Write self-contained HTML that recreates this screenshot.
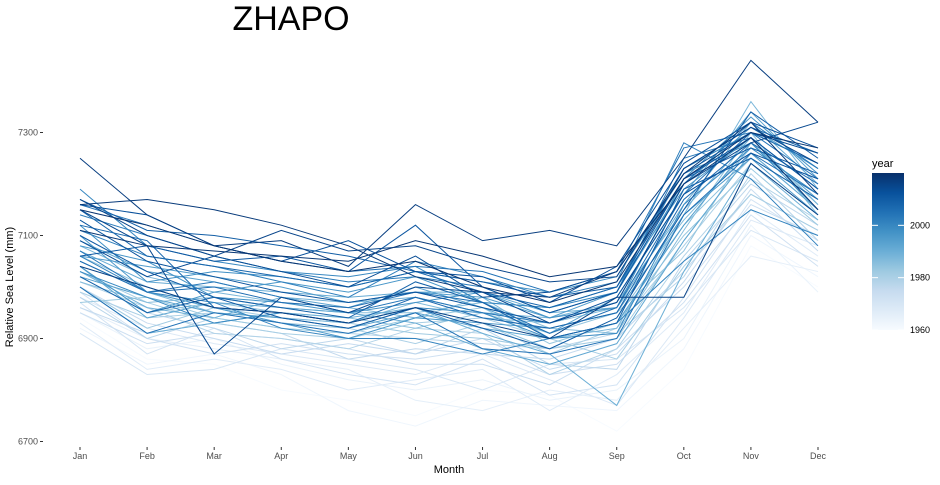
<!DOCTYPE html>
<html><head><meta charset="utf-8"><style>
body{margin:0;background:#fff;}
svg text{font-family:"Liberation Sans",sans-serif;}
</style></head><body>
<svg id="chart" width="940" height="480" xmlns="http://www.w3.org/2000/svg">
<defs><linearGradient id="cb" x1="0" y1="1" x2="0" y2="0">
<stop offset="0" stop-color="#F7FBFF"/><stop offset="0.125" stop-color="#DEEBF7"/><stop offset="0.25" stop-color="#C6DBEF"/><stop offset="0.375" stop-color="#9ECAE1"/><stop offset="0.5" stop-color="#6BAED6"/><stop offset="0.625" stop-color="#4292C6"/><stop offset="0.75" stop-color="#2171B5"/><stop offset="0.875" stop-color="#08519C"/><stop offset="1" stop-color="#08306B"/>
</linearGradient></defs>
<text x="291" y="30" font-size="34" text-anchor="middle" fill="#000">ZHAPO</text>
<g id="lines"></g>
<g id="axes"></g>
<text x="449" y="473" font-size="11" text-anchor="middle" fill="#000">Month</text>
<text transform="translate(13,287) rotate(-90)" font-size="11" text-anchor="middle" fill="#000">Relative Sea Level (mm)</text>
<g>
<text x="872" y="167" font-size="11" fill="#000">year</text>
<rect x="872" y="173" width="32" height="157" fill="url(#cb)"/>
<g id="legendTicks"></g>
</g>
</svg>
<script>
const months=["Jan","Feb","Mar","Apr","May","Jun","Jul","Aug","Sep","Oct","Nov","Dec"];
const yTicks=[6700,6900,7100,7300];
const legendTickYears=[1960,1980,2000];
const years=[1960,1961,1962,1963,1964,1965,1966,1967,1968,1969,1970,1971,1972,1973,1974,1975,1976,1977,1978,1979,1980,1981,1982,1983,1984,1985,1986,1987,1988,1989,1990,1991,1992,1993,1994,1995,1996,1997,1998,1999,2000,2001,2002,2003,2004,2005,2006,2007,2008,2009,2010,2011,2012,2013,2014,2015,2016,2017,2018,2019];
const values=[
[6940,6860,6850,6800,6780,6750,6800,6790,6720,6840,7080,7000],
[6920,6850,6870,6830,6760,6730,6780,6770,6760,6880,7100,7020],
[6950,6880,6900,6850,6820,6800,6820,6780,6800,6900,7120,6990],
[6960,6900,6880,6860,6840,6780,6760,6800,6780,6920,7060,7030],
[6930,6840,6860,6840,6800,6820,6840,6760,6830,6950,7150,7060],
[6980,6920,6890,6870,6850,6830,6870,6820,6770,6940,7130,7080],
[6910,6830,6840,6880,6860,6840,6800,6850,6860,6960,7110,7050],
[6970,6870,6920,6860,6830,6810,6860,6790,6810,6980,7170,7090],
[6990,6900,6870,6890,6870,6860,6880,6830,6850,6970,7140,7040],
[6950,6890,6910,6900,6880,6850,6850,6810,6880,7000,7160,7100],
[7000,6930,6900,6870,6890,6870,6900,6840,6870,7010,7190,7070],
[6960,6910,6930,6910,6860,6880,6870,6860,6900,7030,7180,7110],
[7020,6950,6920,6880,6900,6870,6920,6850,6840,7050,7200,7120],
[6980,6900,6940,6920,6910,6900,6890,6880,6910,7020,7220,7090],
[7010,6960,6910,6900,6880,6920,6910,6830,6880,7060,7210,7130],
[6990,6940,6950,6930,6920,6890,6930,6870,6920,7080,7240,7140],
[7030,6970,6930,6910,6900,6930,6940,6900,6860,7040,7180,7110],
[7000,6920,6960,6940,6930,6910,6900,6880,6900,7090,7260,7150],
[6970,6980,6940,6920,6910,6940,6960,6890,6930,7100,7230,7120],
[7040,6950,6970,6950,6940,6920,6950,6910,6950,7070,7280,7160],
[7060,7000,6960,6930,6920,6960,6930,6880,6940,7120,7250,7170],
[7010,6970,6980,6960,6950,6950,6970,6920,6910,7110,7300,7140],
[7050,6990,6950,6940,6930,6970,6940,6930,6960,7130,7270,7180],
[7080,7020,6990,6970,6960,6940,6980,6900,6920,7140,7360,7190],
[7030,6960,6940,6980,6970,6980,6950,6940,6970,7150,7290,7160],
[7000,6910,6930,6950,6940,6960,6910,6870,6770,7030,7240,7130],
[7070,7010,7000,6990,6980,6990,6990,6950,6960,7160,7320,7200],
[7040,6940,6970,6960,6950,6930,6880,6850,6890,7090,7260,7150],
[7090,7030,7010,6980,6960,7000,6960,6910,6980,7180,7340,7210],
[7020,6980,6950,6940,6920,6950,6920,6900,6930,7120,7280,7170],
[7060,7040,7020,7000,6970,6990,6980,6940,6990,7200,7310,7230],
[7100,6990,6960,6930,6900,6940,6930,6920,6950,7140,7250,7140],
[7040,6950,6990,7010,6990,7020,6970,6960,7000,7190,7290,7190],
[7080,7050,6980,6970,6950,6970,6990,6940,6960,7210,7330,7220],
[7120,7010,7030,7020,7000,7030,7010,6990,7020,7220,7280,7150],
[7030,6980,6930,6950,6930,6960,6950,6900,6910,7160,7270,7180],
[7190,7080,7050,7030,7020,7040,6970,6960,6990,7230,7300,7240],
[7060,6990,6970,6920,6900,6900,6870,6900,6930,7050,7150,7100],
[7110,7060,7040,7010,6980,7050,7020,6980,7010,7280,7210,7080],
[7140,7100,7060,7030,7010,7020,7000,6950,6990,7250,7290,7190],
[7070,6990,7010,6980,6950,6980,6950,6930,6970,7200,7320,7230],
[7160,7120,7080,7050,7030,7040,7030,6990,7030,7270,7300,7210],
[7000,6910,6950,6930,6910,6950,6880,6870,6900,7140,7260,7180],
[7050,6990,7000,6970,6960,6990,6970,6910,6960,7180,7300,7240],
[7120,7090,6960,6950,6930,6980,6940,6920,6950,7170,7280,7200],
[7150,7060,7040,7020,7000,7030,6990,6960,7000,7230,7310,7260],
[7020,6950,6980,6960,6940,7010,6970,6900,6930,7190,7250,7170],
[7170,7110,7100,7080,7060,7030,7010,6980,7000,7210,7270,7220],
[7100,7030,6980,6940,6920,6960,6920,6880,6940,7150,7340,7250],
[7060,7080,7050,7060,7030,7120,7000,6950,6990,7210,7290,7190],
[7130,7050,7020,6990,6970,6990,6960,6930,6980,7180,7260,7210],
[7160,7140,7080,7050,7090,7030,7020,6970,7040,7240,7320,7270],
[7090,7020,7060,7030,7000,7060,6980,6990,7030,7220,7300,7260],
[7150,7080,6870,6980,6950,7000,6990,6930,6970,7200,7280,7320],
[7170,7100,7060,7110,7070,7080,7040,7010,7020,7230,7310,7240],
[7040,7000,6960,6950,6930,6960,6930,6900,6980,6980,7240,7140],
[7250,7140,7080,7090,7040,7160,7090,7110,7080,7250,7440,7320],
[7160,7170,7150,7120,7080,7020,6990,6980,7030,7220,7320,7180],
[7110,7080,7070,7060,7050,7090,7060,7020,7040,7200,7290,7150],
[7150,7120,7080,7050,7030,7050,7000,6970,7010,7210,7300,7270]
];
const NS="http://www.w3.org/2000/svg";
const xScale=i=>80+i*(818-80)/11;
const yScale=v=>441.5-(v-6700)*(441.5-132.5)/600;
const stops=[[247,251,255],[222,235,247],[198,219,239],[158,202,225],[107,174,214],[66,146,198],[33,113,181],[8,81,156],[8,48,107]];
function colorFor(yr){let t=(yr-1960)/60;t=Math.max(0,Math.min(1,t));t=Math.pow(t,0.8)*8;const i=Math.min(7,Math.floor(t)),f=t-i;const a=stops[i],b=stops[i+1];return "rgb("+a.map((c,k)=>Math.round(c+(b[k]-c)*f)).join(",")+")";}
const lg=document.getElementById("lines");
years.forEach((yr,j)=>{
  const p=document.createElementNS(NS,"polyline");
  p.setAttribute("points",values[j].map((v,i)=>xScale(i)+","+yScale(v)).join(" "));
  p.setAttribute("fill","none");
  p.setAttribute("stroke",colorFor(yr));
  p.setAttribute("stroke-width","1");
  
  
  lg.appendChild(p);
});
const ax=document.getElementById("axes");
yTicks.forEach(v=>{
  const t=document.createElementNS(NS,"text");
  t.setAttribute("x",38);
  t.setAttribute("y",yScale(v)+3);
  t.setAttribute("font-size","9");
  t.setAttribute("text-anchor","end");
  t.setAttribute("fill","#4d4d4d");
  t.textContent=v;
  
  
  ax.appendChild(t);
  const l=document.createElementNS(NS,"line");
  l.setAttribute("x1",40);
  l.setAttribute("x2",43);
  l.setAttribute("y1",yScale(v));
  l.setAttribute("y2",yScale(v));
  l.setAttribute("stroke","#333");
  
  
  ax.appendChild(l);
});
months.forEach((m,i)=>{
  const t=document.createElementNS(NS,"text");
  t.setAttribute("x",xScale(i));
  t.setAttribute("y",459);
  t.setAttribute("font-size","9");
  t.setAttribute("text-anchor","middle");
  t.setAttribute("fill","#4d4d4d");
  t.textContent=m;
  
  
  ax.appendChild(t);
  const l=document.createElementNS(NS,"line");
  l.setAttribute("x1",xScale(i));
  l.setAttribute("x2",xScale(i));
  l.setAttribute("y1",447);
  l.setAttribute("y2",450);
  l.setAttribute("stroke","#333");
  
  
  ax.appendChild(l);
});
const lt=document.getElementById("legendTicks");
legendTickYears.forEach(yr=>{
  const y=330-(yr-1960)*157/60;
  const t=document.createElementNS(NS,"text");
  t.setAttribute("x",910);
  t.setAttribute("y",y+3);
  t.setAttribute("font-size","9");
  t.setAttribute("fill","#000");
  t.textContent=yr;
  
  
  lt.appendChild(t);
  [[872,878],[898,904]].forEach(([a,b])=>{
    const l=document.createElementNS(NS,"line");
    l.setAttribute("x1",a);
    l.setAttribute("x2",b);
    l.setAttribute("y1",y);
    l.setAttribute("y2",y);
    l.setAttribute("stroke","#fff");
    
    
    lt.appendChild(l);
  });
});
</script>
</body></html>
